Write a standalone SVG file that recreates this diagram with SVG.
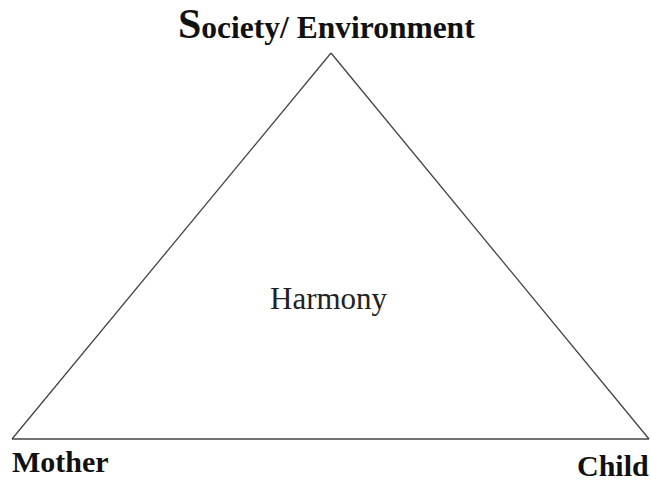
<svg xmlns="http://www.w3.org/2000/svg" width="651" height="483" viewBox="0 0 651 483">
  <style>
    .lbl { font-family: "Liberation Serif", "Times New Roman", serif; font-weight: bold; fill: #111; }
    .mid { font-family: "Liberation Serif", "Times New Roman", serif; fill: #222; }
    .edge { stroke: #444; stroke-width: 1.3; fill: none; }
  </style>
  <rect width="651" height="483" fill="#fff"/>
  <g id="connectors">
    <line class="edge" x1="331" y1="53" x2="12" y2="439"/>
    <line class="edge" x1="331" y1="53" x2="649" y2="439"/>
    <line class="edge" x1="12" y1="439" x2="649" y2="439"/>
  </g>
  <g id="society">
    <text class="lbl" x="178" y="38" font-size="31.5"><tspan font-size="42">S</tspan>ociety/ Environment</text>
  </g>
  <g id="mother">
    <text class="lbl" x="12" y="472" font-size="30">Mother</text>
  </g>
  <g id="child">
    <text class="lbl" x="577" y="476" font-size="30">Child</text>
  </g>
  <g id="harmony">
    <text class="mid" x="270" y="309" font-size="31">Harmony</text>
  </g>
</svg>
